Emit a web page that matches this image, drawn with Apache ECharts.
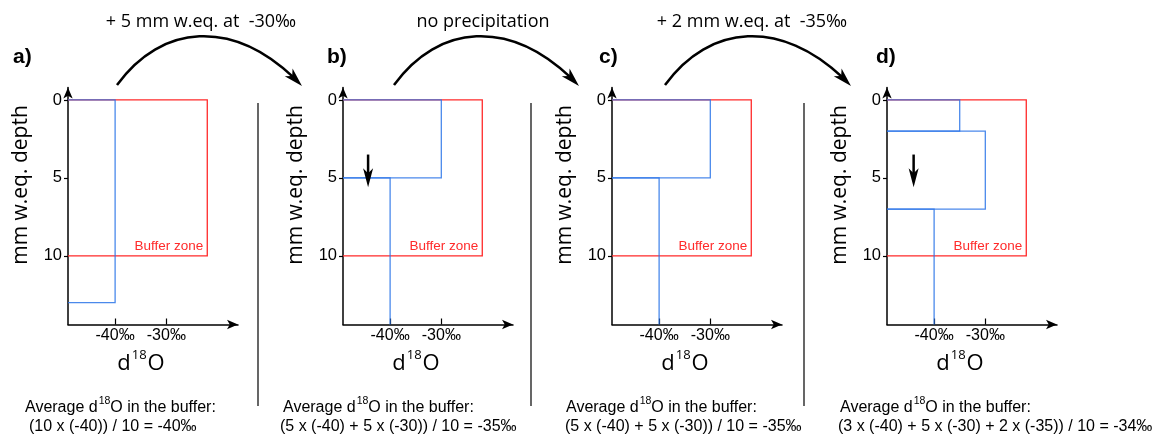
<!DOCTYPE html>
<html><head><meta charset="utf-8">
<script src="https://cdn.jsdelivr.net/npm/echarts@6/dist/echarts.min.js"></script>
<style>html,body{margin:0;padding:0;background:#fff}#c{width:1163px;height:437px}</style>
</head><body><div id="c"></div>
<script>
// ---------- data ----------
const panelLabels = ['a)', 'b)', 'c)', 'd)'];
const stepTitles = ['+ 5 mm w.eq. at  -30‰', 'no precipitation', '+ 2 mm w.eq. at  -35‰'];
const xTicks = [-40, -30];
const yTicks = [0, 5, 10];
// snow layers: [top depth, bottom depth (null = continues below the axis), d18O]
const layersA = [[0, 13, -40]];
const layersB = [[0, 5, -30], [5, null, -40]];
const layersC = [[0, 5, -30], [5, null, -40]];
const layersD = [[0, 2, -35], [2, 7, -30], [7, null, -40]];
const bufferDepth = 10;
const bufferRight = -22;
// burial arrows: [d18O position, depth start, depth end]
const arrowB = [-44.3, 3.5, 5.6];
const arrowD = [-44, 3.5, 5.6];
const avgLine2 = [
  '(10 x (-40)) / 10 = -40‰',
  '(5 x (-40) + 5 x (-30)) / 10 = -35‰',
  '(5 x (-40) + 5 x (-30)) / 10 = -35‰',
  '(3 x (-40) + 5 x (-30) + 2 x (-35)) / 10 = -34‰'
];

// ---------- layout ----------
const GRID_LEFT = [68, 343, 612, 887];
const GRID_TOP = 87.5, GRID_W = 170, GRID_H = 237;
const X_MIN = -49.2, X_MAX = -16, Y_MIN = -0.8, Y_MAX = 14.4;
const BLUE = '#2a74e8', RED = '#ff2a2a';
const layersAll = [layersA, layersB, layersC, layersD];
const arrowsAll = [null, arrowB, null, arrowD];

const grids = GRID_LEFT.map(l => ({left: l, top: GRID_TOP, width: GRID_W, height: GRID_H}));
const xAxes = GRID_LEFT.map((l, i) => ({
  type: 'value', gridIndex: i, min: X_MIN, max: X_MAX, position: 'bottom',
  name: '{d|d}{s|18}{d|O}', nameLocation: 'middle', nameGap: 24,
  nameTextStyle: {padding: [0, 24, 0, 0], rich: {
    d: {fontSize: 22, fontFamily: 'Open Sans', color: '#000', lineHeight: 26, verticalAlign: 'bottom'},
    s: {fontSize: 13, fontFamily: 'Open Sans', color: '#000', lineHeight: 26, verticalAlign: 'top', padding: [0, 1, 0, 1]}
  }},
  axisLine: {onZero: false, lineStyle: {color: '#000', width: 1.5}, symbol: ['none', 'arrow'], symbolSize: [7, 11]},
  axisTick: {inside: true, length: 6, customValues: xTicks, lineStyle: {color: '#000', width: 1.2}},
  axisLabel: {customValues: xTicks, formatter: v => v + '‰', margin: 3, fontSize: 16, color: '#000', fontFamily: 'Liberation Sans'},
  splitLine: {show: false}
}));
const yAxes = GRID_LEFT.map((l, i) => ({
  type: 'value', gridIndex: i, min: Y_MIN, max: Y_MAX, inverse: true,
  name: 'mm w.eq. depth', nameLocation: 'middle', nameGap: 36,
  nameTextStyle: {fontSize: 21, fontFamily: 'Open Sans', color: '#000', padding: [0, 0, 0, 42]},
  axisLine: {onZero: false, lineStyle: {color: '#000', width: 1.5}, symbol: ['none', 'arrow'], symbolSize: [7, 11]},
  axisTick: {length: 4, customValues: yTicks, lineStyle: {color: '#000', width: 1.2}},
  axisLabel: {customValues: yTicks, margin: 6, fontSize: 16.5, color: '#000', fontFamily: 'Liberation Sans'},
  splitLine: {show: false}
}));

const series = [];
for (let i = 0; i < 4; i++) {
  series.push({
    type: 'custom', xAxisIndex: i, yAxisIndex: i, z: 3, silent: true, clip: false,
    data: [[bufferDepth, bufferRight]],
    renderItem: (params, api) => {
      const d = api.value(0), r = api.value(1);
      const p0 = api.coord([X_MIN, 0]), p1 = api.coord([r, 0]), p2 = api.coord([r, d]), p3 = api.coord([X_MIN, d]);
      return {type: 'group', children: [
        {type: 'polyline', shape: {points: [p0, p1, p2, p3]}, style: {stroke: RED, fill: 'none', lineWidth: 1.3}},
        {type: 'text', x: p2[0] - 4, y: p2[1] - 3, style: {text: 'Buffer zone', fill: RED, fontSize: 13.5, fontFamily: 'Liberation Sans', align: 'right', verticalAlign: 'bottom'}}
      ]};
    }
  });
  series.push({
    type: 'custom', xAxisIndex: i, yAxisIndex: i, z: 4, silent: true, clip: false,
    data: layersAll[i].map(([t, b, v]) => [t, b === null ? Y_MAX : b, v, b === null ? 1 : 0]),
    renderItem: (params, api) => {
      const t = api.value(0), b = api.value(1), v = api.value(2), open = api.value(3);
      const pts = [api.coord([X_MIN, t]), api.coord([v, t]), api.coord([v, b])];
      if (!open) pts.push(api.coord([X_MIN, b]));
      return {type: 'polyline', shape: {points: pts}, style: {stroke: BLUE, fill: 'none', lineWidth: 1.3, opacity: 0.85}};
    }
  });
  if (arrowsAll[i]) {
    series.push({
      type: 'custom', xAxisIndex: i, yAxisIndex: i, z: 5, silent: true, clip: false,
      data: [arrowsAll[i]],
      renderItem: (params, api) => {
        const a = api.coord([api.value(0), api.value(1)]), b = api.coord([api.value(0), api.value(2)]);
        const x = a[0];
        return {type: 'group', children: [
          {type: 'line', shape: {x1: x, y1: a[1], x2: x, y2: b[1] - 12}, style: {stroke: '#000', lineWidth: 2.5}},
          {type: 'polygon', shape: {points: [[x, b[1]], [x - 5, b[1] - 19], [x, b[1] - 14], [x + 5, b[1] - 19]]}, style: {fill: '#000'}}
        ]};
      }
    });
  }
}

// ---------- annotations ----------
const graphic = [];
function arc(x0, y0, x1, y1) {
  const c2x = x1 - 65, c2y = y1 - 66;
  let dx = x1 - c2x, dy = y1 - c2y; const L = Math.hypot(dx, dy); dx /= L; dy /= L;
  const ex = x1 - dx * 12, ey = y1 - dy * 12;
  graphic.push({type: 'bezierCurve', shape: {x1: x0, y1: y0, x2: ex, y2: ey, cpx1: x0 + 45, cpy1: y0 - 62, cpx2: c2x - dx * 6, cpy2: c2y - dy * 6 + 4},
    style: {stroke: '#000', lineWidth: 2.5, fill: null}, silent: true});
  const px = -dy, py = dx;
  const bx = x1 - dx * 19, by = y1 - dy * 19, nx = x1 - dx * 14, ny = y1 - dy * 14;
  graphic.push({type: 'polygon', shape: {points: [[x1, y1], [bx + px * 5.5, by + py * 5.5], [nx, ny], [bx - px * 5.5, by - py * 5.5]]},
    style: {fill: '#000'}, silent: true});
}
arc(117, 85, 302, 86);
arc(394, 85, 579, 86);
arc(665, 85, 851, 86);

const titleX = [201, 483, 752];
stepTitles.forEach((t, i) => graphic.push({type: 'text', x: titleX[i], y: 22,
  style: {text: t, fontSize: 18, fontFamily: 'Open Sans', fill: '#000', align: 'center', verticalAlign: 'middle'}}));

const labelX = [13, 327, 599, 876];
panelLabels.forEach((t, i) => graphic.push({type: 'text', x: labelX[i], y: 57,
  style: {text: t, fontSize: 21, fontWeight: 'bold', fontFamily: 'Liberation Sans', fill: '#000', align: 'left', verticalAlign: 'middle'}}));

[258, 531, 804].forEach(x => graphic.push({type: 'line', shape: {x1: x, y1: 103, x2: x, y2: 406}, style: {stroke: '#000', lineWidth: 1.2}, silent: true}));

const line1X = [25, 283, 566, 840], line2X = [29, 280, 565, 838];
const bottomRich = {
  t: {fontSize: 16, fontFamily: 'Liberation Sans', fill: '#000', lineHeight: 20, verticalAlign: 'bottom'},
  s: {fontSize: 10.5, fontFamily: 'Liberation Sans', fill: '#000', lineHeight: 20, verticalAlign: 'top', padding: [0, 0, 0, 1]}
};
for (let i = 0; i < 4; i++) {
  graphic.push({type: 'text', x: line1X[i], y: 406,
    style: {text: '{t|Average d}{s|18}{t|O in the buffer:}', rich: bottomRich, align: 'left', verticalAlign: 'middle'}});
  graphic.push({type: 'text', x: line2X[i], y: 427,
    style: {text: avgLine2[i], fontSize: 16, fontFamily: 'Liberation Sans', fill: '#000', align: 'left', verticalAlign: 'middle'}});
}

const chart = echarts.init(document.getElementById('c'));
chart.setOption({animation: false, backgroundColor: '#fff', grid: grids, xAxis: xAxes, yAxis: yAxes, series, graphic});
</script></body></html>
